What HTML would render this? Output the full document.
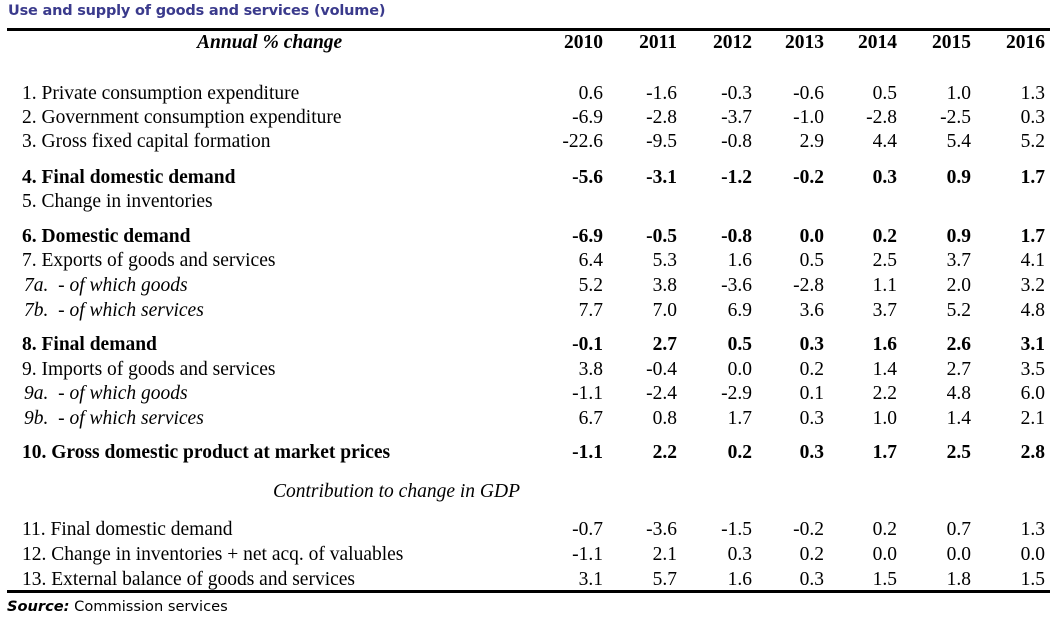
<!DOCTYPE html>
<html><head><meta charset="utf-8"><style>
body{margin:0;width:1053px;height:619px;background:#fff;position:relative;overflow:hidden;font-family:"Liberation Serif",serif;font-size:19.5px;color:#000}
.t{position:absolute;left:8px;top:3px;font-family:"DejaVu Sans","Liberation Sans",sans-serif;font-size:14.5px;color:#3a3a8c;font-weight:bold;letter-spacing:-0.2px}
.rule{position:absolute;left:7px;width:1043px;height:3px;background:#000}
.r{position:absolute;left:0;width:1053px;height:22px;line-height:22px;white-space:nowrap}
.r span{position:absolute;top:0}
.l{left:22px}
.i .l{left:24px;font-style:italic}
.b{font-weight:bold}
.n{width:70px;text-align:right}
.src{position:absolute;left:7px;top:598px;font-family:"DejaVu Sans","Liberation Sans",sans-serif;font-size:14.6px}
</style></head><body>
<div class="t">Use and supply of goods and services (volume)</div>
<div class="rule" style="top:28px"></div>
<div class="rule" style="top:590px"></div>
<div class="r b" style="top:32px"><span style="left:197px;font-style:italic">Annual % change</span><span class="n" style="left:533px">2010</span><span class="n" style="left:607px">2011</span><span class="n" style="left:682px">2012</span><span class="n" style="left:754px">2013</span><span class="n" style="left:827px">2014</span><span class="n" style="left:901px">2015</span><span class="n" style="left:975px">2016</span></div>
<div id="rows"></div>
<div class="src"><b><i>Source:</i></b> Commission services</div>
<script>
const rows=[
[93,"1. Private consumption expenditure",["0.6","-1.6","-0.3","-0.6","0.5","1.0","1.3"]],
[117,"2. Government consumption expenditure",["-6.9","-2.8","-3.7","-1.0","-2.8","-2.5","0.3"]],
[141,"3. Gross fixed capital formation",["-22.6","-9.5","-0.8","2.9","4.4","5.4","5.2"]],
[177,"4. Final domestic demand",["-5.6","-3.1","-1.2","-0.2","0.3","0.9","1.7"],"b"],
[201,"5. Change in inventories",[]],
[236,"6. Domestic demand",["-6.9","-0.5","-0.8","0.0","0.2","0.9","1.7"],"b"],
[260,"7. Exports of goods and services",["6.4","5.3","1.6","0.5","2.5","3.7","4.1"]],
[285,"7a.&nbsp; - of which goods",["5.2","3.8","-3.6","-2.8","1.1","2.0","3.2"],"i"],
[310,"7b.&nbsp; - of which services",["7.7","7.0","6.9","3.6","3.7","5.2","4.8"],"i"],
[344,"8. Final demand",["-0.1","2.7","0.5","0.3","1.6","2.6","3.1"],"b"],
[369,"9. Imports of goods and services",["3.8","-0.4","0.0","0.2","1.4","2.7","3.5"]],
[393,"9a.&nbsp; - of which goods",["-1.1","-2.4","-2.9","0.1","2.2","4.8","6.0"],"i"],
[418,"9b.&nbsp; - of which services",["6.7","0.8","1.7","0.3","1.0","1.4","2.1"],"i"],
[452,"10. Gross domestic product at market prices",["-1.1","2.2","0.2","0.3","1.7","2.5","2.8"],"b"],
[529,"11. Final domestic demand",["-0.7","-3.6","-1.5","-0.2","0.2","0.7","1.3"]],
[554,"12. Change in inventories + net acq. of valuables",["-1.1","2.1","0.3","0.2","0.0","0.0","0.0"]],
[579,"13. External balance of goods and services",["3.1","5.7","1.6","0.3","1.5","1.8","1.5"]]];
const edges=[603,677,752,824,897,971,1045];
let h='';
for(const [y,l,v,c] of rows){
h+=`<div class="r ${c||''}" style="top:${y-10}px"><span class="l">${l}</span>`;
v.forEach((x,i)=>h+=`<span class="n" style="left:${edges[i]-70}px">${x}</span>`);
h+='</div>';}
h+=`<div class="r" style="top:481px"><span style="left:273px;font-style:italic">Contribution to change in GDP</span></div>`;
document.getElementById('rows').innerHTML=h;
</script>
</body></html>
